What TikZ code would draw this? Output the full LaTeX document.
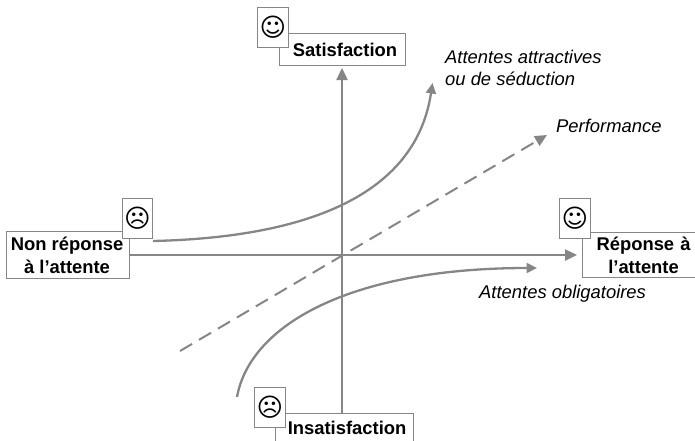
\documentclass[tikz,border=0pt]{standalone}
\usepackage{fontspec}
\setmainfont{Liberation Sans}
\newfontfamily\facefont{DejaVu Sans}
\usetikzlibrary{arrows.meta}
\definecolor{ln}{RGB}{134,134,134}
\tikzset{x=1pt,y=-1pt,
 lab/.style={draw=ln,line width=1.1pt,fill=white,inner sep=0pt,align=center,font=\fontsize{18.4}{23}\selectfont\bfseries,anchor=north west},
 facebox/.style={draw=ln,line width=1.1pt,fill=white,inner sep=0pt,minimum width=30.5pt,minimum height=39.5pt,anchor=north west,font=\fontsize{25.5}{26}\facefont},
 note/.style={font=\fontsize{18.4}{22.5}\selectfont\itshape,align=left,inner sep=0pt,anchor=west,text=black},
 arrowline/.style={draw=ln,line width=2.4pt,-{Triangle[length=12pt,width=11pt]}},
 curveline/.style={draw=ln,line width=2.3pt,-{Triangle[length=10.5pt,width=10pt]}}}
\begin{document}
\begin{tikzpicture}
\useasboundingbox (0,0) rectangle (695,440);
\coordinate (dashA) at (180,351);
\coordinate (dashB) at (547,135);
\coordinate (c1a) at (153,241);
\coordinate (c1b) at (432.5,83);
\coordinate (c2a) at (237,397);
\coordinate (c2b) at (537,268);
\node[lab,minimum width=126pt,minimum height=32pt] (sat) at (279,33) {\hspace*{5pt}Satisfaction};
\node[lab,minimum width=123pt,minimum height=47pt] (non) at (6,231) {Non réponse\hspace*{2pt}\\à l’attente\hspace*{2pt}};
\node[lab,minimum width=122pt,minimum height=45pt,text width=120pt] (rep) at (582,232) {Réponse à\\l’attente};
\node[lab,minimum width=138pt,minimum height=28pt] (ins) at (275,413) {\hspace*{5pt}Insatisfaction};
\draw[arrowline] (ins.north -| 342,0) -- (342,68) coordinate (vtip);
\draw[arrowline,shorten >=5pt] (non.east |- 0,255) -- (rep.west |- 0,255);
\draw[arrowline,dashed,dash pattern=on 14pt off 8pt,line width=2pt] (dashA) -- (dashB);
\draw[curveline] (c1a) .. controls (282,238) and (414,207) .. (c1b);
\draw[curveline] (c2a) .. controls (250,325) and (350,268) .. (c2b);
\node[facebox] (f1) at (257,7) {☺};
\node[facebox] (f2) at (121.5,198) {☹};
\node[facebox] (f3) at (559,198) {☺};
\node[facebox] (f4) at (254,387) {☹};
\node[note] (n1) at (445,68) {Attentes attractives\\ou de séduction};
\node[note] (n2) at (556,126) {Performance};
\node[note] (n3) at (479,294) {Attentes obligatoires};
\end{tikzpicture}
\end{document}
